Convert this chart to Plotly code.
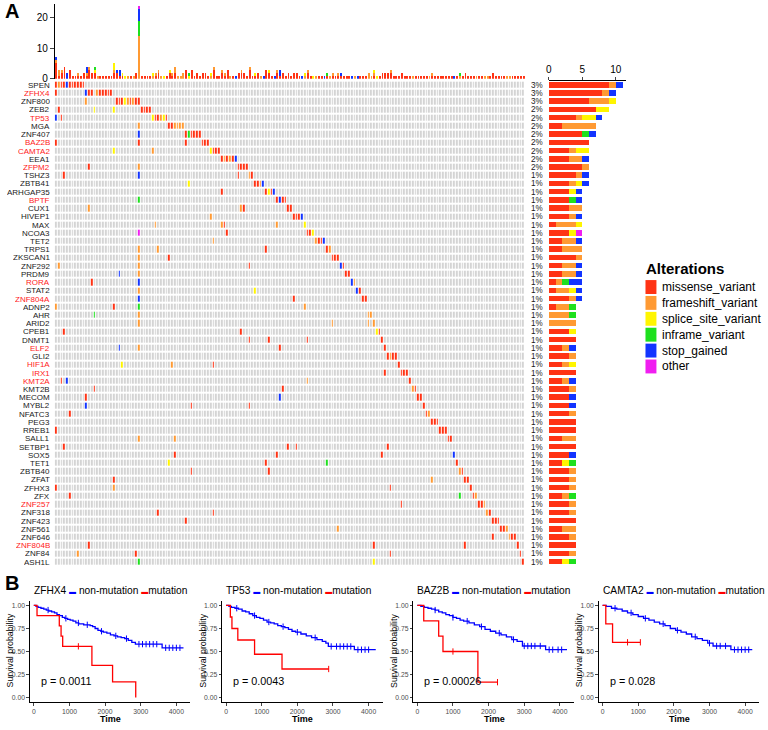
import plotly.graph_objects as go

W, H = 768, 730


def px(x):
    return x / W


def py(y):
    return 1 - y / H


# ---- panel A data ----
genes = ["SPEN", "ZFHX4", "ZNF800", "ZEB2", "TP53", "MGA", "ZNF407", "BAZ2B", "CAMTA2", "EEA1",
         "ZFPM2", "TSHZ3", "ZBTB41", "ARHGAP35", "BPTF", "CUX1", "HIVEP1", "MAX", "NCOA3", "TET2",
         "TRPS1", "ZKSCAN1", "ZNF292", "PRDM9", "RORA", "STAT2", "ZNF804A", "ADNP2", "AHR", "ARID2",
         "CPEB1", "DNMT1", "ELF2", "GLI2", "HIF1A", "IRX1", "KMT2A", "KMT2B", "MECOM", "MYBL2",
         "NFATC3", "PEG3", "RREB1", "SALL1", "SETBP1", "SOX5", "TET1", "ZBTB40", "ZFAT", "ZFHX3",
         "ZFX", "ZNF257", "ZNF318", "ZNF423", "ZNF561", "ZNF646", "ZNF804B", "ZNF84", "ASH1L"]
red_genes = ["ZFHX4", "TP53", "BAZ2B", "CAMTA2", "ZFPM2", "BPTF", "RORA", "ZNF804A", "ELF2",
             "HIF1A", "IRX1", "KMT2A", "ZNF257", "ZNF804B"]
pct = [3, 3, 3, 2, 2, 2, 2, 2, 2, 2, 2, 1, 1, 1, 1, 1, 1, 1, 1, 1,
       1, 1, 1, 1, 1, 1, 1, 1, 1, 1, 1, 1, 1, 1, 1, 1, 1, 1, 1, 1,
       1, 1, 1, 1, 1, 1, 1, 1, 1, 1, 1, 1, 1, 1, 1, 1, 1, 1, 1]

# mutations per gene by class (right bar chart)
missense = [9, 8, 6, 7, 4, 2, 5, 6, 3, 3, 5, 4, 3, 3, 3, 3, 3, 1, 3, 2,
            2, 4, 2, 2, 1, 1, 3, 1, 0, 0, 3, 4, 2, 3, 2, 4, 2, 3, 3, 3,
            3, 4, 4, 2, 4, 3, 2, 3, 3, 3, 2, 3, 3, 4, 2, 3, 4, 3, 2]
frameshift = [1, 1, 3, 0, 1, 5, 0, 0, 1, 2, 1, 1, 1, 0, 0, 2, 1, 3, 0, 2,
              3, 1, 2, 2, 1, 2, 1, 2, 3, 4, 0, 0, 1, 1, 1, 0, 1, 1, 0, 0,
              1, 0, 0, 2, 0, 0, 0, 1, 1, 1, 1, 1, 1, 0, 2, 1, 0, 1, 0]
splice = [0, 0, 1, 2, 2, 0, 0, 0, 2, 0, 0, 0, 1, 1, 0, 0, 0, 1, 1, 0,
          0, 0, 0, 0, 0, 1, 0, 0, 0, 0, 1, 0, 0, 0, 1, 0, 0, 0, 0, 0,
          0, 0, 0, 0, 0, 0, 1, 0, 0, 0, 0, 0, 0, 0, 0, 0, 0, 0, 1]
inframe = [0, 0, 0, 0, 0, 0, 1, 0, 0, 0, 0, 0, 0, 0, 1, 0, 0, 0, 0, 0,
           0, 0, 0, 0, 1, 0, 0, 1, 1, 0, 0, 0, 0, 0, 0, 0, 0, 0, 0, 0,
           0, 0, 0, 0, 0, 0, 1, 0, 0, 0, 1, 0, 0, 0, 0, 0, 0, 0, 1]
stop = [1, 1, 0, 0, 1, 0, 1, 0, 0, 1, 0, 1, 1, 1, 1, 0, 1, 0, 0, 1,
        0, 0, 1, 1, 2, 1, 1, 0, 0, 0, 0, 0, 1, 0, 0, 0, 1, 0, 1, 1,
        0, 0, 0, 0, 0, 1, 0, 0, 0, 0, 0, 0, 0, 0, 0, 0, 0, 0, 0]
other = [0, 0, 0, 0, 0, 0, 0, 0, 0, 0, 0, 0, 0, 0, 0, 0, 0, 0, 1, 0,
         0, 0, 0, 0, 0, 0, 0, 0, 0, 0, 0, 0, 0, 0, 0, 0, 0, 0, 0, 0,
         0, 0, 0, 0, 0, 0, 0, 0, 0, 0, 0, 0, 0, 0, 0, 0, 0, 0, 0]

# oncoplot cells: "<sample column><class code>" per gene
# r=missense o=frameshift y=splice_site g=inframe b=stop_gained m=other
hits = [
    "0r 1o 2r 3r 4b 5r 6r 7r 8r 9r 10r",
    "0r 11b 12r 13r 15o 16r 17r 18r 19r 20r",
    "11o 22r 23r 24r 25y 26o 27r 28o 29r 30r",
    "1r 14y 21y 31r 32r 33r 34r",
    "0b 2r 35y 36r 37r 38o 39y 40r",
    "30o 41r 42r 43o 44o 45o 46o",
    "30b 47r 48g 49r 50r 51r 52r",
    "0r 30r 47r 53r 54r 55r",
    "21y 35o 56y 57r 58r 59r",
    "60r 61o 62r 63o 64r 65b",
    "12r 30o 66r 67r 68r 69r",
    "3r 30b 66r 70o 71r",
    "48y 72r 73r 74o 75b",
    "60r 76r 77y 78r 79b",
    "30g 80r 81b 82r 83r",
    "12o 67o 68r 84r 85r",
    "56o 86r 87r 88r 89b",
    "36o 60o 61r 80o 90y",
    "30m 62r 91r 92r 93y",
    "57o 94o 95r 96r 97b",
    "30o 37o 76r 98r 99o",
    "30o 41r 100r 101r 102r",
    "1o 30o 70r 103b 104r",
    "23b 30o 105r 106r",
    "13r 30b 107b 108o",
    "30o 72y 109b 110r",
    "30b 86r 111r 112r",
    "0o 21r 30g 90o",
    "14g 30o 113o 114o",
    "30o 100o 113o 115o",
    "3r 67r 116y 117r",
    "70r 77r 91r 118r",
    "23b 30o 81r 119r",
    "120r 121o 122r 123r",
    "24y 42o 57r 124r",
    "119r 125r 126r 127r",
    "2r 4b 91o 128r",
    "14r 82r 129o 130r",
    "11r 81b 131r 132r",
    "11b 49r 70r 133r",
    "5r 134r 135o",
    "136r 137r 138r",
    "0r 139r 140r 141r",
    "30o 43o 142r 143r",
    "3r 84r 87r 120r",
    "43r 80r 118r 144b",
    "41y 76r 98g 145r",
    "49r 77r 146o 147r",
    "21r 136o 148r 149r",
    "0r 21o 121r 150r",
    "5r 146g 151r 152o",
    "125r 153r 154r 155o",
    "37r 57r 156o 157r",
    "47r 158r 159r 160r",
    "102o 161r 162r 163o",
    "158r 164o 165r 166r",
    "12r 115r 148r 167r",
    "8o 29r 121r 168r",
    "30g 115y 169r",
]

# mutations per sample (top bar chart), one letter per mutation
tmb = ["rrrrrob", "roo", "rro", "rrrr", "bb", "rrr", "r", "r", "ro", "r",
       "rr", "robb", "rrro", "rr", "rryg", "o", "r", "r", "r", "r",
       "r", "rroyy", "rrb", "rbb", "ry", "y", "o", "r", "o", "rr",
       "oooooooooooooogggggbbbbm", "r", "r", "r", "r", "oy", "ro", "rro", "o", "y",
       "r", "rry", "ro", "rroo", "o", "o", "oo", "rrr", "yg", "rrr",
       "r", "rr", "r", "rr", "rr", "r", "oy", "rrro", "r", "r",
       "rro", "ro", "rrr", "o", "r", "b", "rr", "rro", "rr", "r",
       "rrro", "r", "ry", "rr", "o", "b", "rrr", "rry", "r", "b",
       "rro", "rbb", "rr", "r", "rr", "r", "rr", "rr", "r", "b",
       "oy", "rro", "r", "y", "o", "r", "r", "b", "rg", "o",
       "ro", "r", "ro", "rb", "r", "r", "r", "b", "o", "b",
       "r", "r", "r", "oo", "o", "roy", "y", "r", "rr", "rr",
       "rr", "rro", "r", "r", "r", "rr", "r", "r", "r", "o",
       "r", "r", "r", "r", "r", "o", "ro", "r", "r", "r",
       "r", "r", "r", "r", "b", "r", "og", "r", "rr", "r",
       "r", "r", "o", "r", "r", "o", "o", "r", "rr", "r",
       "r", "r", "r", "o", "o", "r", "r", "r", "r", "r"]

alt_names = ["missense_variant", "frameshift_variant", "splice_site_variant",
             "inframe_variant", "stop_gained", "other"]
alt_colors = ["#FF3314", "#FF9A33", "#FFF500", "#1EE01E", "#1234FF", "#F01EF0"]
codes = "roygbm"

# ---- panel B data (Kaplan-Meier) ----
km_genes = ["ZFHX4", "TP53", "BAZ2B", "CAMTA2"]
km_p = ["p = 0.0011", "p = 0.0043", "p = 0.00026", "p = 0.028"]

mut_t = [
    [0, 90, 715, 765, 810, 1630, 2210, 2860],
    [0, 120, 165, 330, 800, 1570, 2880],
    [0, 180, 600, 720, 1700, 2250],
    [0, 90, 280, 1060],
]
mut_s = [
    [1.0, 0.889, 0.778, 0.667, 0.556, 0.35, 0.17, 0.0],
    [1.0, 0.875, 0.75, 0.625, 0.47, 0.31, 0.31],
    [1.0, 0.833, 0.667, 0.5, 0.167, 0.167],
    [1.0, 0.8, 0.6, 0.6],
]
mut_cens = [[1250], [2880], [1000, 2250], [700, 1060]]

wt_t = [
    [0, 60, 120, 200, 280, 350, 420, 500, 580, 650, 720, 800, 870, 950, 1020, 1100, 1180,
     1260, 1400, 1580, 1650, 1720, 1800, 1880, 1950, 2050, 2150, 2250, 2350, 2450, 2550,
     2650, 2750, 2850, 3600, 4200],
    [0, 80, 150, 250, 350, 450, 550, 650, 750, 850, 950, 1050, 1150, 1250, 1350, 1450,
     1550, 1650, 1750, 1850, 1950, 2100, 2250, 2400, 2550, 2700, 2800, 2870, 3600, 4200],
    [0, 100, 200, 300, 400, 500, 600, 700, 800, 900, 1000, 1100, 1200, 1300, 1450, 1600,
     1750, 1900, 2050, 2200, 2350, 2500, 2650, 2800, 2950, 3600, 4200],
    [0, 100, 250, 400, 550, 700, 850, 1000, 1150, 1300, 1450, 1600, 1750, 1900, 2050,
     2200, 2350, 2500, 2650, 2800, 2950, 3100, 3600, 4200],
]
wt_s = [
    [1.0, 0.99, 0.98, 0.97, 0.96, 0.95, 0.94, 0.93, 0.92, 0.90, 0.89, 0.87, 0.86, 0.85,
     0.84, 0.83, 0.81, 0.80, 0.79, 0.78, 0.77, 0.75, 0.73, 0.72, 0.71, 0.70, 0.68, 0.67,
     0.66, 0.65, 0.64, 0.62, 0.60, 0.58, 0.54, 0.54],
    [1.0, 0.99, 0.98, 0.97, 0.96, 0.94, 0.93, 0.91, 0.89, 0.87, 0.86, 0.84, 0.82, 0.81,
     0.80, 0.78, 0.77, 0.76, 0.74, 0.72, 0.71, 0.69, 0.67, 0.65, 0.63, 0.61, 0.59, 0.555,
     0.52, 0.52],
    [1.0, 0.99, 0.98, 0.97, 0.96, 0.95, 0.93, 0.92, 0.90, 0.89, 0.87, 0.86, 0.84, 0.83,
     0.81, 0.79, 0.77, 0.74, 0.72, 0.70, 0.68, 0.66, 0.63, 0.61, 0.56, 0.52, 0.52],
    [1.0, 0.99, 0.97, 0.96, 0.94, 0.92, 0.90, 0.88, 0.86, 0.84, 0.82, 0.80, 0.78, 0.75,
     0.73, 0.71, 0.69, 0.66, 0.64, 0.62, 0.59, 0.56, 0.52, 0.52],
]
wt_cens = [
    [400, 900, 1250, 1500, 1900, 2300, 2600, 2950, 3050, 3150, 3250, 3350, 3450, 3700,
     3800, 3900, 4000, 4100],
    [300, 800, 1200, 1600, 2000, 2500, 2950, 3100, 3200, 3300, 3400, 3500, 3700, 3800,
     3900, 4000],
    [500, 1000, 1400, 1800, 2300, 2700, 3000, 3100, 3200, 3300, 3450, 3700, 3800, 3950,
     4050],
    [350, 800, 1200, 1700, 2100, 2600, 3000, 3200, 3300, 3450, 3700, 3800, 3900, 4000,
     4100],
]
km_x0 = [27, 220, 412, 598]


def surv_at(ts, ss, t):
    val = ss[0]
    for ti, si in zip(ts, ss):
        if ti <= t:
            val = si
    return val


n_samples = len(tmb)
n_genes = len(genes)
font_fam = "Liberation Sans, Arial, sans-serif"

fig = go.Figure()

# top: mutations per sample
for k, code in enumerate(codes):
    fig.add_trace(go.Bar(
        x=list(range(n_samples)), y=[s.count(code) for s in tmb],
        marker=dict(color=alt_colors[k], line=dict(width=0)),
        xaxis="x", yaxis="y", hoverinfo="skip"))

# oncoplot matrix
z = [[0] * n_samples for _ in genes]
for gi, row in enumerate(hits):
    for tok in row.split():
        z[gi][int(tok[:-1])] = codes.index(tok[-1]) + 1
cell_colors = ["#D4D4D4"] + alt_colors
fig.add_trace(go.Heatmap(
    z=z, x=list(range(n_samples)), y=list(range(n_genes)),
    colorscale=[[k / 6, c] for k, c in enumerate(cell_colors)],
    zmin=0, zmax=6, showscale=False, xgap=1, ygap=2,
    xaxis="x2", yaxis="y2", hoverinfo="skip"))

# right: mutations per gene
for k, arr in enumerate([missense, frameshift, splice, inframe, stop, other]):
    fig.add_trace(go.Bar(
        x=arr, y=list(range(n_genes)), orientation="h",
        marker=dict(color=alt_colors[k], line=dict(width=0)),
        xaxis="x3", yaxis="y3", hoverinfo="skip"))

# survival curves
for i in range(4):
    xa, ya = "x%d" % (4 + i), "y%d" % (4 + i)
    fig.add_trace(go.Scatter(x=wt_t[i], y=wt_s[i], mode="lines", line_shape="hv",
                             line=dict(color="#0000FF", width=1.3), xaxis=xa, yaxis=ya))
    fig.add_trace(go.Scatter(x=mut_t[i], y=mut_s[i], mode="lines", line_shape="hv",
                             line=dict(color="#FF0000", width=1.3), xaxis=xa, yaxis=ya))
    fig.add_trace(go.Scatter(
        x=wt_cens[i], y=[surv_at(wt_t[i], wt_s[i], t) for t in wt_cens[i]], mode="markers",
        marker=dict(symbol="line-ns-open", size=4.5, color="#0000FF", line=dict(width=1)),
        xaxis=xa, yaxis=ya))
    fig.add_trace(go.Scatter(
        x=mut_cens[i], y=[surv_at(mut_t[i], mut_s[i], t) for t in mut_cens[i]], mode="markers",
        marker=dict(symbol="line-ns-open", size=4.5, color="#FF0000", line=dict(width=1)),
        xaxis=xa, yaxis=ya))

matrix_dom = [py(569.7), py(81.2)]
layout = dict(
    width=W, height=H, margin=dict(l=0, r=0, t=0, b=0),
    paper_bgcolor="white", plot_bgcolor="white",
    showlegend=False, barmode="stack", bargap=0.32,
    font=dict(family=font_fam, color="black"),
    xaxis=dict(domain=[px(52), px(524)], range=[-0.5, n_samples - 0.5], visible=False,
               anchor="y"),
    yaxis=dict(domain=[py(79.3), py(4)], range=[0, 24.5], showline=True, linecolor="black",
               linewidth=1, ticks="outside", ticklen=4, tickvals=[0, 10, 20],
               tickfont=dict(size=10), showgrid=False, zeroline=False, anchor="x"),
    xaxis2=dict(domain=[px(52), px(524)], range=[-0.5, n_samples - 0.5], visible=False,
                anchor="y2"),
    yaxis2=dict(domain=matrix_dom, range=[n_genes - 0.5, -0.5], visible=False, anchor="x2"),
    xaxis3=dict(domain=[px(548), px(625)], range=[0, 11.45], side="top", showline=True,
                linecolor="black", linewidth=1, ticks="outside", ticklen=3,
                tickvals=[0, 5, 10], tickfont=dict(size=10), showgrid=False,
                zeroline=False, anchor="y3"),
    yaxis3=dict(domain=matrix_dom, range=[n_genes - 0.5, -0.5], visible=False, anchor="x3"),
)
for i in range(4):
    x0 = km_x0[i]
    layout["xaxis%d" % (4 + i)] = dict(
        domain=[px(x0), px(x0 + 161)], range=[-110, 4390], showline=True,
        linecolor="black", linewidth=1, ticks="outside", ticklen=2.5,
        tickvals=[0, 1000, 2000, 3000, 4000], tickfont=dict(size=6.8, color="#4D4D4D"),
        showgrid=False, zeroline=False, anchor="y%d" % (4 + i))
    layout["yaxis%d" % (4 + i)] = dict(
        domain=[py(707), py(605)], range=[-0.05, 1.05], showline=True,
        linecolor="black", linewidth=1, ticks="outside", ticklen=2.5,
        tickvals=[0, 0.25, 0.5, 0.75, 1],
        ticktext=["0.00", "0.25", "0.50", "0.75", "1.00"],
        tickfont=dict(size=6.8, color="#4D4D4D"),
        showgrid=False, zeroline=False, anchor="x%d" % (4 + i))

ann = []
ann.append(dict(text="<b>A</b>", x=px(0), y=py(11), xanchor="left", yanchor="middle",
                font=dict(size=20)))
ann.append(dict(text="<b>B</b>", x=px(0), y=py(587), xanchor="left", yanchor="middle",
                font=dict(size=20)))
for i, g in enumerate(genes):
    yc = py(85.3 + 8.28 * i)
    ann.append(dict(text=g, x=px(49.5), y=yc, xanchor="right", yanchor="middle", height=8,
                    font=dict(size=8, color="#FF1A1A" if g in red_genes else "#1A1A1A")))
    ann.append(dict(text="%d%%" % pct[i], x=px(528), y=yc, xanchor="left", yanchor="middle",
                    height=8, font=dict(size=8.2, color="#1A1A1A")))

ann.append(dict(text="<b>Alterations</b>", x=px(644), y=py(270), xanchor="left",
                yanchor="middle", font=dict(size=15)))
shapes = []
for k, name in enumerate(alt_names):
    yc = 289 + 16 * k
    shapes.append(dict(type="rect", xref="paper", yref="paper", x0=px(645), x1=px(656),
                       y0=py(yc + 7), y1=py(yc - 7), fillcolor=alt_colors[k],
                       line=dict(width=0)))
    ann.append(dict(text=name, x=px(660), y=py(yc), xanchor="left", yanchor="middle",
                    font=dict(size=12)))

for i in range(4):
    x0 = km_x0[i]
    title = ("%s <span style='color:#0000FF;font-size:7px'>▬</span> non-mutation "
             "<span style='color:#FF0000;font-size:7px'>▬</span>mutation" % km_genes[i])
    ann.append(dict(text=title, x=px(x0 + 2), y=py(595), xanchor="left", yanchor="middle",
                    font=dict(size=10.2)))
    ann.append(dict(text=km_p[i], x=px(x0 + 9), y=py(686), xanchor="left", yanchor="middle",
                    font=dict(size=10.8)))
    ann.append(dict(text="Survival probability", x=px(x0 - 20), y=py(655), textangle=-90,
                    xanchor="center", yanchor="middle", font=dict(size=8.8)))
    ann.append(dict(text="<b>Time</b>", x=px(x0 + 81), y=py(724), xanchor="center",
                    yanchor="middle", font=dict(size=9)))

for a in ann:
    a.update(xref="paper", yref="paper", showarrow=False)
layout["annotations"] = ann
layout["shapes"] = shapes

fig.update_layout(**layout)
# the page body has a default 8px margin; drop it so the figure sits at the window corner
fig.write_html("out.html", config={"displayModeBar": False, "staticPlot": True},
               post_script="document.body.style.margin='0';")
